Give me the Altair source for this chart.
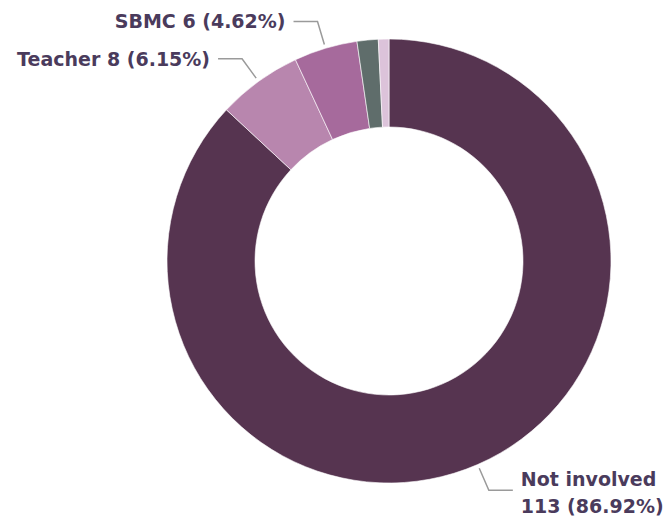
import math
import altair as alt
import pandas as pd

categories = ["Not involved", "Teacher", "SBMC", "Other A", "Other B"]
counts = [113, 8, 6, 2, 1]
colors = ["#563450", "#B886AE", "#A66A9C", "#5F6D6B", "#DCC3DA"]
labelled = ["Not involved", "Teacher", "SBMC"]

W, H = 655, 509
CX, CY = 381, 253
R_OUT, R_IN = 222, 134

total = sum(counts)
df = pd.DataFrame({"category": categories, "count": counts,
                   "order": list(range(len(categories)))})

# label texts and leader lines derived from the data
rows_line, rows_text = [], []
cum = 0
for cat, c in zip(categories, counts):
    a0 = cum / total * 2 * math.pi
    cum += c
    a1 = cum / total * 2 * math.pi
    if cat not in labelled:
        continue
    mid = (a0 + a1) / 2
    sx, sy = math.sin(mid), -math.cos(mid)
    p0 = (CX + (R_OUT + 4) * sx, CY + (R_OUT + 4) * sy)
    p1 = (CX + (R_OUT + 28) * sx, CY + (R_OUT + 28) * sy)
    side = 1 if sx > 0 else -1
    p2 = (p1[0] + side * 24, p1[1])
    for i, p in enumerate([p0, p1, p2]):
        rows_line.append({"category": cat, "i": i, "px": p[0], "py": p[1]})
    pct = f"{c / total * 100:.2f}%"
    if side > 0:
        txt = f"{cat}\n{c} ({pct})"
        ty = p2[1] - 10
    else:
        txt = f"{cat} {c} ({pct})"
        ty = p2[1] + 1
    rows_text.append({"category": cat, "px": p2[0] + side * 8, "py": ty,
                      "txt": txt, "align": "left" if side > 0 else "right"})

lines = pd.DataFrame(rows_line)
texts = pd.DataFrame(rows_text)

xs = alt.Scale(domain=[0, W], range=[0, W])
ys = alt.Scale(domain=[0, H], range=[0, H])

arc = alt.Chart(df).mark_arc(innerRadius=R_IN, outerRadius=R_OUT,
                             stroke="white", strokeWidth=0.6).encode(
    theta=alt.Theta("count:Q", stack=True),
    order=alt.Order("order:Q"),
    color=alt.Color("category:N", scale=alt.Scale(domain=categories, range=colors),
                    legend=None),
    x=alt.value(CX), y=alt.value(CY),
)

leader = alt.Chart(lines).mark_line(color="#9a9a9a", strokeWidth=1.5).encode(
    x=alt.X("px:Q", scale=xs, axis=None),
    y=alt.Y("py:Q", scale=ys, axis=None),
    detail="category:N",
    order="i:Q",
)

text_left = alt.Chart(texts[texts["align"] == "right"]).mark_text(
    align="right", baseline="middle", font="DejaVu Sans", fontWeight="bold",
    fontSize=19, color="#4a3b5c").encode(
    x=alt.X("px:Q", scale=xs, axis=None),
    y=alt.Y("py:Q", scale=ys, axis=None),
    text="txt:N",
)

text_right = alt.Chart(texts[texts["align"] == "left"]).mark_text(
    align="left", baseline="middle", font="DejaVu Sans", fontWeight="bold",
    fontSize=19, color="#4a3b5c", lineBreak="\n", lineHeight=27).encode(
    x=alt.X("px:Q", scale=xs, axis=None),
    y=alt.Y("py:Q", scale=ys, axis=None),
    text="txt:N",
)

chart = alt.layer(arc, leader, text_left, text_right).properties(
    width=W, height=H, padding=0,
    autosize=alt.AutoSizeParams(type="none"),
).configure_view(stroke=None)

chart.save("out.html", embed_options={"renderer": "svg", "actions": False})
